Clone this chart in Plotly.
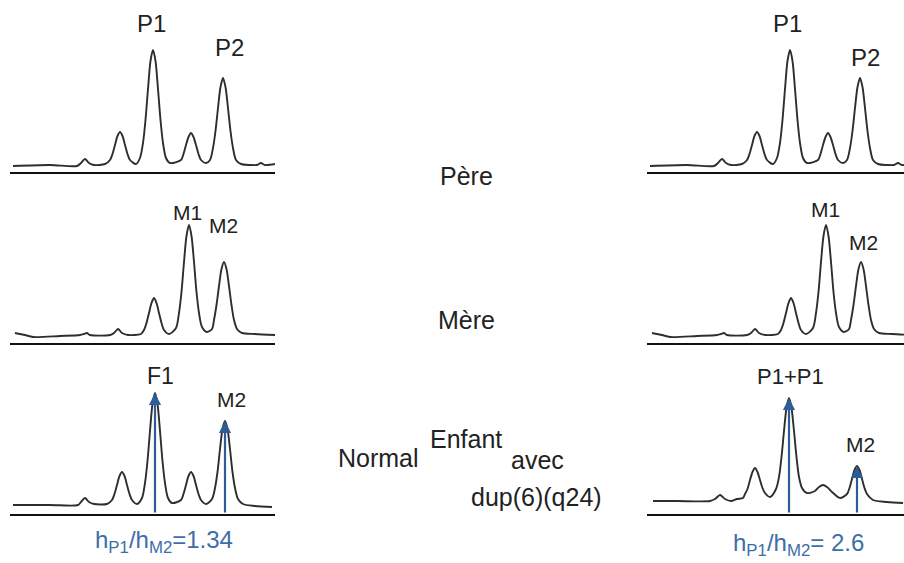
import plotly.graph_objects as go

FIG_W, FIG_H = 904, 563

# ---------------- data (panel units: x = position along trace, y = signal height) -------------
pere_x = [3, 40, 67, 71, 75, 79, 84, 95,
          100, 102.5, 105, 107.5, 110, 112.5, 115, 117.5, 120, 126,
          130, 133, 135.5, 138, 140.5, 143, 145.5, 148, 150.5, 153, 156, 160,
          171, 173.5, 176, 178.5, 181, 183.5, 186, 188.5, 191, 196,
          200, 203, 205.5, 208, 210.5, 213, 215.5, 218, 220.5, 223, 226,
          231, 240, 247, 251, 255, 265]
pere_y = [6, 7, 6, 9, 13, 9, 7, 8,
          12, 18, 27, 36, 40, 36, 27, 18, 12, 8,
          14, 29, 52, 83, 111, 122, 111, 83, 52, 29, 14, 9,
          12, 18, 27, 35, 39, 35, 27, 18, 12, 9,
          12, 24, 41, 64, 85, 94, 85, 64, 41, 24, 12,
          8, 7, 7, 9, 7, 8]

mere_x = [5, 15, 23, 50, 70, 74, 77, 80, 100, 104, 108, 112, 118, 131,
          134, 136.5, 139, 141.5, 144, 146.5, 149, 151.5, 154, 159,
          166, 169, 171.5, 174, 176.5, 179, 181.5, 184, 186.5, 189, 192, 197,
          202, 204, 206.5, 209, 211.5, 214, 216.5, 219, 221.5, 224, 227,
          232, 245, 265]
mere_y = [10, 8, 6, 7, 8, 9, 10, 8, 8, 10, 14, 10, 8, 9,
          13, 20, 30, 40, 45, 40, 30, 20, 13, 9,
          15, 30, 51, 81, 107, 118, 107, 81, 51, 30, 16, 11,
          14, 23, 38, 57, 74, 81, 74, 57, 38, 23, 14,
          10, 9, 8]

normal_x = [3, 40, 68, 71, 75, 79, 84, 97,
            102, 104.5, 107, 109.5, 112, 114.5, 117, 119.5, 122, 127,
            132, 135, 137.5, 140, 142.5, 145, 147.5, 150, 152.5, 155, 158, 162,
            171, 173.5, 176, 178.5, 181, 183.5, 186, 188.5, 191, 196,
            202, 205, 207.5, 210, 212.5, 215, 217.5, 220, 222.5, 225, 228,
            233, 245, 262]
normal_y = [9, 9, 9, 12, 16, 12, 10, 10,
            14, 20, 29, 38, 42, 38, 29, 20, 14, 10,
            16, 31, 53, 83, 110, 121, 110, 83, 53, 31, 16, 11,
            14, 20, 29, 38, 42, 38, 29, 20, 14, 10,
            15, 26, 42, 65, 85, 93, 85, 65, 42, 26, 15,
            10, 8, 7]

dup_x = [6, 30, 63, 68, 73, 78, 84, 90, 96,
         98, 100.5, 103, 105.5, 108, 110.5, 113, 115.5, 118, 123,
         129, 132, 134.5, 137, 139.5, 142, 144.5, 147, 149.5, 152, 155, 160,
         168, 172, 176, 180, 185, 193,
         200, 202.5, 205, 207.5, 210, 212.5, 215, 217.5, 220,
         226, 240, 256]
dup_y = [13, 13, 13, 15, 19, 15, 13, 15, 16,
         20, 25, 34, 42, 46, 42, 34, 26, 21, 17,
         25, 37, 57, 83, 106, 116, 106, 83, 57, 37, 26, 21,
         23, 27, 29, 27, 22, 16,
         20, 26, 35, 44, 48, 44, 35, 26, 20,
         14, 12, 11]

peak_labels_pere = ["P1", "P2"]
peak_labels_mere = ["M1", "M2"]
peak_labels_normal = ["F1", "M2"]
peak_labels_dup = ["P1+P1", "M2"]
row_titles = ["Père", "Mère"]
child_texts = ["Normal", "Enfant", "avec", "dup(6)(q24)"]
ratio_texts = ["h<sub>P1</sub>/h<sub>M2</sub>=1.34", "h<sub>P1</sub>/h<sub>M2</sub>= 2.6"]

# ---------------- layout helpers ----------------
TRACE_COL = "#2e2e2e"
BLUE = "#2c5d96"
BLUE_TXT = "#3d6ea9"
TXT = "#222222"
FONT = "Liberation Sans, Arial, sans-serif"

rule_px = [172, 343, 514]          # horizontal rule of each row (pixels from top)
PANEL_H = 140
left_x = (10, 275)
right_x = (647, 904)


def ydom(b):
    return [1 - b / FIG_H, 1 - (b - PANEL_H) / FIG_H]


fig = go.Figure()
layout = dict(width=FIG_W, height=FIG_H, margin=dict(l=0, r=0, t=0, b=0),
              paper_bgcolor="white", plot_bgcolor="white", showlegend=False)

panels = [
    (pere_x, pere_y, 0, "L"), (pere_x, pere_y, 0, "R"),
    (mere_x, mere_y, 1, "L"), (mere_x, mere_y, 1, "R"),
    (normal_x, normal_y, 2, "L"), (dup_x, dup_y, 2, "R"),
]


def ax_names(n):
    return ("x" if n == 1 else f"x{n}"), ("y" if n == 1 else f"y{n}")


for i, (xs, ys, row, side) in enumerate(panels):
    n = i + 1
    xa, ya = ax_names(n)
    xk = "xaxis" if n == 1 else f"xaxis{n}"
    yk = "yaxis" if n == 1 else f"yaxis{n}"
    xr = left_x if side == "L" else right_x
    layout[xk] = dict(domain=[xr[0] / FIG_W, xr[1] / FIG_W], range=[0, xr[1] - xr[0]],
                      anchor=ya, showgrid=False, zeroline=False, showticklabels=False,
                      ticks="", showline=True, linecolor="#111111", linewidth=2,
                      fixedrange=True)
    layout[yk] = dict(domain=ydom(rule_px[row]), range=[0, PANEL_H], anchor=xa,
                      showgrid=False, zeroline=False, showticklabels=False,
                      ticks="", showline=False, fixedrange=True)
    fig.add_trace(go.Scatter(x=xs, y=ys, mode="lines", xaxis=xa, yaxis=ya,
                             line=dict(color=TRACE_COL, width=1.9, shape="spline",
                                       smoothing=0.8),
                             hoverinfo="skip"))

annotations = []


def label(n, text, x, y_base, size=24, color=TXT):
    xa, ya = ax_names(n)
    annotations.append(dict(xref=xa, yref=ya, x=x, y=y_base, text=text, showarrow=False,
                            xanchor="center", yanchor="bottom", yshift=-0.27 * size,
                            font=dict(family=FONT, size=size, color=color)))


def peak(xs, ys, lo, hi):
    idx = max((k for k in range(len(xs)) if lo <= xs[k] <= hi), key=lambda k: ys[k])
    return xs[idx], ys[idx]


# peak labels
p1 = peak(pere_x, pere_y, 130, 160); p2 = peak(pere_x, pere_y, 200, 225)
label(1, peak_labels_pere[0], p1[0] - 2, p1[1] + 17)
label(1, peak_labels_pere[1], p2[0] + 6, p2[1] + 21)
label(2, peak_labels_pere[0], p1[0] - 3, p1[1] + 17)
label(2, peak_labels_pere[1], p2[0] + 5, p2[1] + 11)

m1 = peak(mere_x, mere_y, 165, 195); m2 = peak(mere_x, mere_y, 205, 225)
label(3, peak_labels_mere[0], m1[0] - 2, m1[1] + 5, size=21)
label(3, peak_labels_mere[1], m2[0] - 1, m2[1] + 29, size=21)
label(4, peak_labels_mere[0], m1[0] - 1, m1[1] + 8, size=21)
label(4, peak_labels_mere[1], m2[0] + 2, m2[1] + 12, size=21)

f1 = peak(normal_x, normal_y, 130, 160); n2 = peak(normal_x, normal_y, 205, 225)
label(5, peak_labels_normal[0], f1[0] + 5, f1[1] + 8, size=23)
label(5, peak_labels_normal[1], n2[0] + 6, n2[1] + 14, size=21)
d1 = peak(dup_x, dup_y, 130, 155); d2 = peak(dup_x, dup_y, 200, 220)
label(6, peak_labels_dup[0], d1[0] + 1, d1[1] + 13, size=22)
label(6, peak_labels_dup[1], d2[0] + 3, d2[1] + 14, size=21)

# blue arrows from the rule up to the peak tops
for n, pk in [(5, f1), (5, n2), (6, d1), (6, d2)]:
    xa, ya = ax_names(n)
    annotations.append(dict(xref=xa, yref=ya, x=pk[0], y=pk[1], axref=xa, ayref=ya,
                            ax=pk[0], ay=0, text="", showarrow=True, arrowhead=2,
                            arrowsize=1.1, arrowwidth=2.2, arrowcolor=BLUE, standoff=0))

# ratio texts
annotations.append(dict(xref="paper", yref="paper", x=164 / FIG_W, y=1 - 541 / FIG_H,
                        text=ratio_texts[0], showarrow=False, xanchor="center", yanchor="middle",
                        font=dict(family=FONT, size=24, color=BLUE_TXT)))
annotations.append(dict(xref="paper", yref="paper", x=798 / FIG_W, y=1 - 544 / FIG_H,
                        text=ratio_texts[1], showarrow=False, xanchor="center", yanchor="middle",
                        font=dict(family=FONT, size=24, color=BLUE_TXT)))


# central texts
def ptext(text, cx, cy, size=25):
    annotations.append(dict(xref="paper", yref="paper", x=cx / FIG_W, y=1 - cy / FIG_H,
                            text=text, showarrow=False, xanchor="center", yanchor="middle",
                            font=dict(family=FONT, size=size, color=TXT)))


ptext(row_titles[0], 466, 176)
ptext(row_titles[1], 466, 320)
ptext(child_texts[0], 378, 458)
ptext(child_texts[1], 466, 439)
ptext(child_texts[2], 537, 460)
ptext(child_texts[3], 536, 497)

layout["annotations"] = annotations
fig.update_layout(**layout)
fig.write_html("out.html", config={"displayModeBar": False, "staticPlot": True},
               post_script="document.body.style.margin='0px';document.body.style.overflow='hidden';")
